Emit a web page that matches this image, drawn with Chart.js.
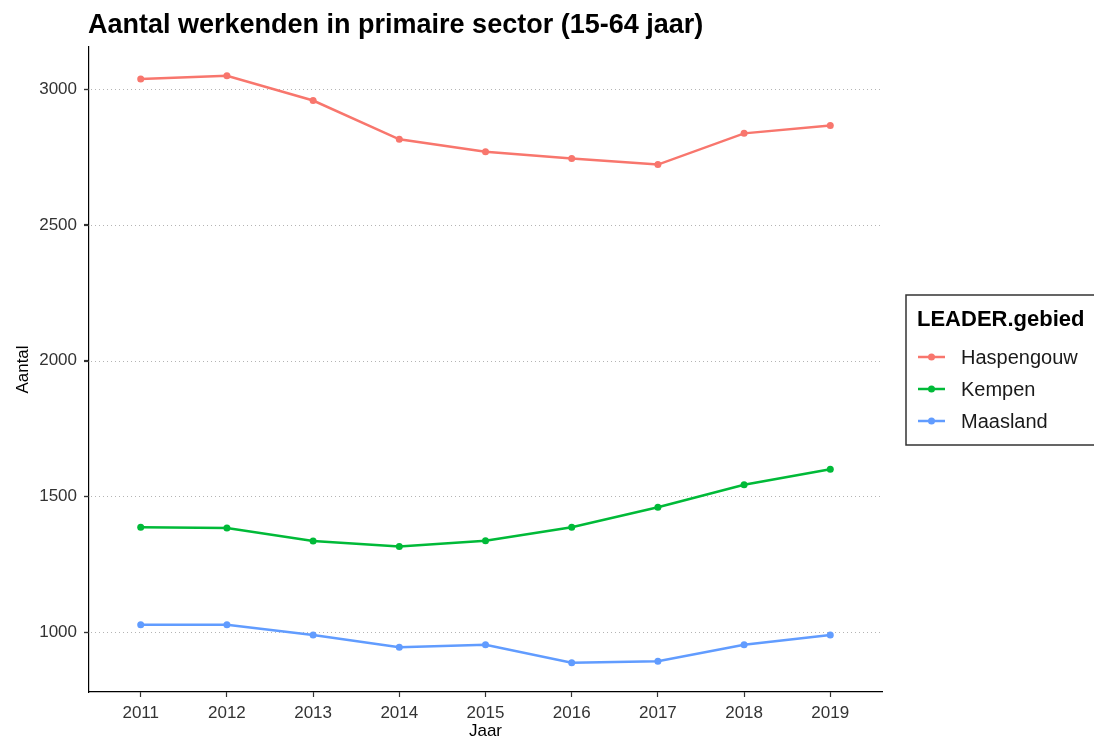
<!DOCTYPE html>
<html>
<head>
<meta charset="utf-8">
<script src="https://cdn.jsdelivr.net/npm/chart.js@4/dist/chart.umd.min.js"></script>
<style>
  html, body { margin: 0; padding: 0; background: #fff; }
  #wrap { width: 1094px; height: 745px; position: relative; }
</style>
</head>
<body>
<div id="wrap"><canvas id="chart"></canvas></div>
<script>
const years = [2011, 2012, 2013, 2014, 2015, 2016, 2017, 2018, 2019];
const haspengouw = [3037, 3049, 2958, 2815, 2769, 2744, 2722, 2837, 2866];
const kempen = [1387, 1384, 1336, 1316, 1337, 1387, 1460, 1543, 1600];
const maasland = [1028, 1028, 990, 945, 954, 888, 893, 954, 990];
const yTicks = [1000, 1500, 2000, 2500, 3000];
const seriesNames = ['Haspengouw', 'Kempen', 'Maasland'];
const seriesColors = ['#F8766D', '#00BA38', '#619CFF'];
const chartTitle = 'Aantal werkenden in primaire sector (15-64 jaar)';
const legendTitle = 'LEADER.gebied';

const FONT = '"Liberation Sans", Arial, sans-serif';

function toPoints(values) {
  return years.map((yr, i) => ({ x: yr, y: values[i] }));
}

const datasets = [haspengouw, kempen, maasland].map((vals, i) => ({
  label: seriesNames[i],
  data: toPoints(vals),
  borderColor: seriesColors[i],
  backgroundColor: seriesColors[i],
  borderWidth: 2.5,
  pointRadius: 3.5,
  pointBorderWidth: 0,
  pointBackgroundColor: seriesColors[i],
  tension: 0
}));

// dotted horizontal grid + solid y tick marks
const dottedGrid = {
  id: 'dottedGrid',
  beforeDatasetsDraw(chart) {
    const ctx = chart.ctx;
    const area = chart.chartArea;
    const yScale = chart.scales.y;
    ctx.save();
    yTicks.forEach(v => {
      const py = Math.round(yScale.getPixelForValue(v)) + 0.5;
      ctx.strokeStyle = '#b4b4b4';
      ctx.lineWidth = 1;
      ctx.setLineDash([1, 3]);
      ctx.beginPath();
      ctx.moveTo(area.left + 2, py);
      ctx.lineTo(area.right, py);
      ctx.stroke();
      ctx.setLineDash([]);
      ctx.strokeStyle = '#333';
      ctx.lineWidth = 1.2;
      ctx.beginPath();
      ctx.moveTo(area.left - 5, py);
      ctx.lineTo(area.left, py);
      ctx.stroke();
    });
    ctx.restore();
  }
};

// title drawn left-aligned with the plot panel, like ggplot
const titlePlugin = {
  id: 'ggTitle',
  afterDraw(chart) {
    const ctx = chart.ctx;
    ctx.save();
    ctx.font = 'bold 27px ' + FONT;
    ctx.fillStyle = '#000';
    ctx.textBaseline = 'alphabetic';
    ctx.textAlign = 'left';
    ctx.fillText(chartTitle, chart.chartArea.left - 1, 33);
    ctx.restore();
  }
};

// boxed legend on the right
const legendPlugin = {
  id: 'ggLegend',
  afterDraw(chart) {
    const ctx = chart.ctx;
    const left = 906, top = 295, height = 150;
    ctx.save();
    ctx.strokeStyle = '#333';
    ctx.lineWidth = 1.5;
    ctx.strokeRect(left, top, 220, height);

    ctx.fillStyle = '#000';
    ctx.font = 'bold 22px ' + FONT;
    ctx.textBaseline = 'middle';
    ctx.textAlign = 'left';
    ctx.fillText(legendTitle, 917, 320);

    ctx.font = '20px ' + FONT;
    seriesNames.forEach((name, i) => {
      const cy = 357 + i * 32;
      ctx.strokeStyle = seriesColors[i];
      ctx.lineWidth = 2.5;
      ctx.beginPath();
      ctx.moveTo(918, cy);
      ctx.lineTo(945, cy);
      ctx.stroke();
      ctx.fillStyle = seriesColors[i];
      ctx.beginPath();
      ctx.arc(931.5, cy, 3.5, 0, Math.PI * 2);
      ctx.fill();
      ctx.fillStyle = '#1a1a1a';
      ctx.fillText(name, 961, cy + 1);
    });
    ctx.restore();
  }
};

new Chart(document.getElementById('chart'), {
  type: 'line',
  data: { datasets },
  plugins: [dottedGrid, titlePlugin, legendPlugin],
  options: {
    responsive: true,
    maintainAspectRatio: false,
    animation: false,
    layout: { padding: { top: 47, right: 212, bottom: 0, left: 0 } },
    plugins: {
      legend: { display: false },
      tooltip: { enabled: false }
    },
    scales: {
      x: {
        type: 'linear',
        min: 2010.4,
        max: 2019.6,
        afterBuildTicks: (scale) => { scale.ticks = years.map(v => ({ value: v })); },
        afterFit: (scale) => { scale.height = 53; },
        ticks: {
          callback: (v) => String(v),
          color: '#333',
          font: { family: FONT, size: 17 },
          padding: 6,
          maxRotation: 0
        },
        grid: {
          drawOnChartArea: false,
          drawTicks: true,
          tickLength: 5,
          tickColor: '#333',
          tickWidth: 1.2
        },
        border: { display: true, color: '#000', width: 1.2 },
        title: {
          display: true,
          text: 'Jaar',
          color: '#000',
          font: { family: FONT, size: 17 },
          padding: { top: 4, bottom: 3 }
        }
      },
      y: {
        min: 780,
        max: 3155,
        afterBuildTicks: (scale) => { scale.ticks = yTicks.map(v => ({ value: v })); },
        afterFit: (scale) => { scale.width = 89; },
        ticks: {
          callback: (v) => String(v),
          color: '#333',
          font: { family: FONT, size: 17 },
          padding: 7
        },
        grid: {
          drawOnChartArea: false,
          drawTicks: true,
          tickLength: 5,
          tickColor: '#333',
          tickWidth: 1.2
        },
        border: { display: true, color: '#000', width: 1.2 },
        title: {
          display: true,
          text: 'Aantal',
          color: '#000',
          font: { family: FONT, size: 17 },
          padding: { top: 13, bottom: 4 }
        }
      }
    }
  }
});
</script>
</body>
</html>
